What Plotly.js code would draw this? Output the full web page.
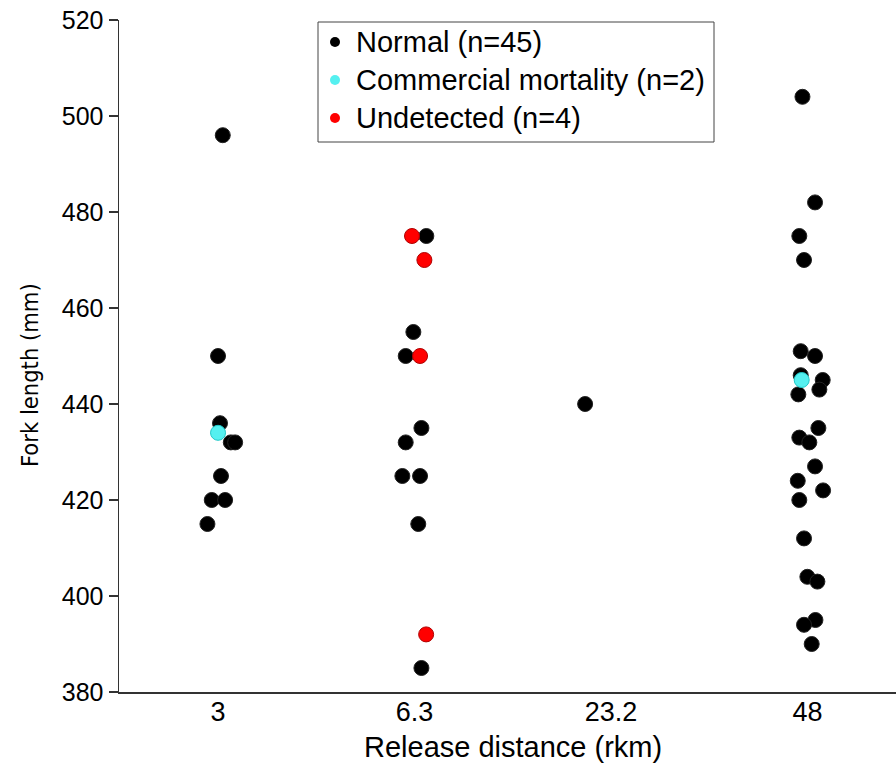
<!DOCTYPE html>
<html>
<head>
<meta charset="utf-8">
<script src="https://cdn.plot.ly/plotly-3.0.1.min.js"></script>
<style>html,body{margin:0;padding:0;background:#fff;}#chart{width:896px;height:769px;}</style>
</head>
<body>
<div id="chart"></div>
<script>
// Categories (release distance, rkm)
var categories = ["3", "6.3", "23.2", "48"];

// Normal fish: category index, horizontal jitter (category units), fork length (mm)
var normalCat = [0,0,0,0,0,0,0,0,0,
                 1,1,1,1,1,1,1,1,1,
                 2,
                 3,3,3,3,3,3,3,3,3,3,3,3,3,3,3,3,3,3,3,3,3,3,3];
var normalJitter = [0.024,0.0,0.01,0.065,0.087,0.015,-0.032,0.036,-0.054,
                    0.06,-0.006,-0.045,0.035,-0.045,-0.062,0.028,0.019,0.035,
                    -0.132,
                    -0.026,0.038,-0.042,-0.018,-0.035,0.038,-0.035,0.077,0.06,-0.047,0.055,-0.042,0.009,0.038,-0.05,0.079,-0.042,-0.018,-0.001,0.05,0.04,-0.018,0.021];
var normalLength = [496,450,436,432,432,425,420,420,415,
                    475,455,450,435,432,425,425,415,385,
                    440,
                    504,482,475,470,451,450,446,445,443,442,435,433,432,427,424,422,420,412,404,403,395,394,390];

// Commercial mortality
var commCat = [0, 3];
var commJitter = [0.0, -0.03];
var commLength = [434, 445];

// Undetected
var undetCat = [1, 1, 1, 1];
var undetJitter = [-0.013, 0.05, 0.028, 0.059];
var undetLength = [475, 470, 450, 392];

var legendNames = ["Normal (n=45)", "Commercial mortality (n=2)", "Undetected (n=4)"];
var legendColors = ["#000000", "#55f0f0", "#ff0000"];
var xTitle = "Release distance (rkm)";
var yTitle = "Fork length (mm)";

function xs(cat, jit){ return cat.map(function(c,i){ return c + jit[i]; }); }

var FONT = "Liberation Sans, Arial, Helvetica, sans-serif";
var NARROW = "Liberation Sans Narrow, DejaVu Sans Condensed, Liberation Sans, sans-serif";
var MS = 15;

var traces = [
  {type:"scatter", mode:"markers", x: xs(normalCat, normalJitter), y: normalLength, name: legendNames[0],
   marker:{size:MS, color:"#000000", line:{color:"#222222", width:1}}},
  {type:"scatter", mode:"markers", x: xs(commCat, commJitter), y: commLength, name: legendNames[1],
   marker:{size:MS, color:"#55f0f0", line:{color:"#20c8c8", width:1}}},
  {type:"scatter", mode:"markers", x: xs(undetCat, undetJitter), y: undetLength, name: legendNames[2],
   marker:{size:MS, color:"#ff0000", line:{color:"#b00000", width:1}}}
];

// Plot-area geometry (pixels) used to place the hand-built legend box
var L = 119, T = 20, W = 777, H = 672;
function px(x){ return (x - L) / W; }
function py(y){ return (T + H - y) / H; }

var shapes = [
  {type:"rect", xref:"paper", yref:"paper", x0:px(318), x1:px(714), y0:py(142), y1:py(22),
   line:{color:"#444444", width:1}, fillcolor:"#ffffff", layer:"above"}
];
var annotations = [
  {text: yTitle, xref: "paper", yref: "paper", x: px(30), y: py(375),
   xanchor: "center", yanchor: "middle", textangle: -90, showarrow: false,
   font: {family: NARROW, size: 23.5, color: "#000"}},
  {text: xTitle, xref: "paper", yref: "paper", x: px(513), y: py(747),
   xanchor: "center", yanchor: "middle", showarrow: false,
   font: {family: FONT, size: 29, color: "#000"}}
];
var rowY = [42, 80, 118];
legendNames.forEach(function(name, i){
  shapes.push({type:"circle", xref:"paper", yref:"paper", xsizemode:"pixel", ysizemode:"pixel",
    xanchor: px(335), yanchor: py(rowY[i]), x0:-5, x1:5, y0:-5, y1:5,
    fillcolor: legendColors[i], line:{width:0}, layer:"above"});
  annotations.push({text: name, xref:"paper", yref:"paper", x: px(354), y: py(rowY[i]),
    xanchor:"left", yanchor:"middle", showarrow:false,
    font:{family: FONT, size: 29, color:"#000"}});
});

var layout = {
  width: 896, height: 769,
  margin: {l:L, r:0, t:T, b:77, pad:0},
  paper_bgcolor: "#ffffff", plot_bgcolor: "#ffffff",
  font: {family: FONT, color: "#000000", size: 24},
  showlegend: false,
  xaxis: {
    range: [-0.504, 3.45],
    tickmode: "array", tickvals: [0,1,2,3], ticktext: categories,
    showgrid: false, zeroline: false,
    showline: true, linecolor: "#333333", linewidth: 1.5,
    ticks: "", ticklabelstandoff: -5,
    tickfont: {family: FONT, size: 27}
  },
  yaxis: {
    range: [380, 520],
    tickvals: [380,400,420,440,460,480,500,520],
    showgrid: false, zeroline: false,
    showline: true, linecolor: "#333333", linewidth: 1.5,
    ticks: "outside", ticklen: 9, tickcolor: "#333333", tickwidth: 1.5,
    tickfont: {family: FONT, size: 25}
  },
  shapes: shapes,
  annotations: annotations
};

Plotly.newPlot("chart", traces, layout, {displayModeBar:false, staticPlot:true});
</script>
</body>
</html>
